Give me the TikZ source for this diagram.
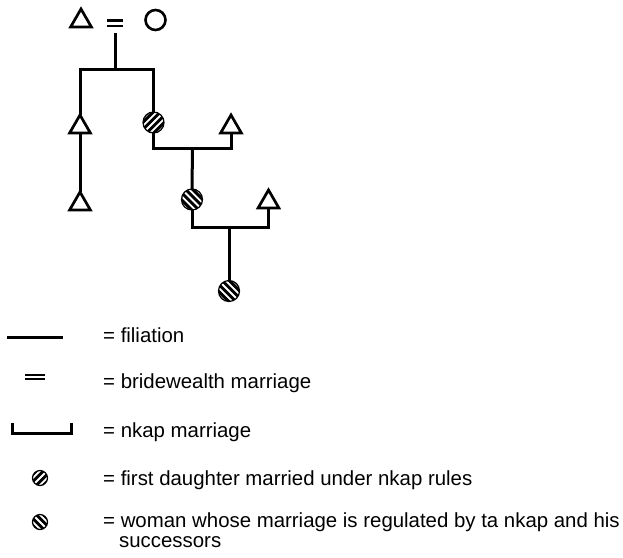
\documentclass[tikz,border=0pt]{standalone}
\usepackage{fontspec}
\setmainfont{Liberation Sans}
\usetikzlibrary{shapes.geometric}
\tikzset{
  lin/.style={line width=3pt, line join=miter},
  tri/.style={regular polygon, regular polygon sides=3, draw, line width=2.7pt, minimum size=24pt, inner sep=0pt, outer sep=0pt},
  wom/.style={circle, draw, line width=2.6pt, minimum size=20pt, inner sep=0pt, outer sep=0pt},
  hatchNE/.style={circle, draw, fill=black, line width=1.2pt, minimum size=#1, inner sep=0pt, outer sep=0pt,
    path picture={\foreach \k in {-3,...,3}{
      \draw[white, line width=1.8pt] ([shift={({\k*3.6-20},{-\k*3.6-20})}]path picture bounding box.center) -- ++(40,40);}}},
  hatchNW/.style={circle, draw, fill=black, line width=1.2pt, minimum size=#1, inner sep=0pt, outer sep=0pt,
    path picture={\foreach \k in {-3,...,3}{
      \draw[white, line width=1.8pt] ([shift={({\k*3.6-20},{\k*3.6+20})}]path picture bounding box.center) -- ++(40,-40);}}},
  lbl/.style={anchor=base west, inner sep=0pt, font=\fontsize{20.4}{21}\selectfont}
}
\begin{document}
\begin{tikzpicture}[x=1pt,y=1pt]
\useasboundingbox (0,0) rectangle (623,-557);
% --- genealogy ---
\node[tri] (t0) at (81,-21) {};
\node[wom] (c0) at (155.5,-20) {};
\draw[line width=2.4pt] (107,-20.5) -- (123,-20.5) (107,-26) -- (123,-26);
\coordinate (eqb) at (115,-33);
\coordinate (j0) at (115,-69);
\coordinate (j1) at (192.5,-148);
\coordinate (j2) at (229,-227);
\node[tri] (t1) at (80,-127) {};
\node[tri] (t2) at (80,-204) {};
\node[hatchNE=21pt] (c1) at (153.5,-122.5) {};
\node[tri] (t3) at (231,-127) {};
\node[hatchNW=21pt] (c2) at (192,-199.5) {};
\node[tri] (t4) at (268.5,-202) {};
\node[hatchNW=21pt] (c3) at (229,-291) {};
\draw[lin] (eqb) -- (j0);
\draw[lin] (t1.north) -- (t1.north |- j0) -- (c1.north |- j0) -- (c1.north);
\draw[lin] (t1.south) -- (t2.north);
\draw[lin] (c1.south) -- (c1.south |- j1) -- (t3.south |- j1) -- (t3.south);
\draw[lin] (j1) -- (c2.north);
\draw[lin] (c2.south) -- (c2.south |- j2) -- (t4.south |- j2) -- (t4.south);
\draw[lin] (j2) -- (c3.north);
% --- legend ---
\coordinate (f1) at (7,-337);
\coordinate (f2) at (63,-337);
\draw[lin] (f1) -- (f2);
\node[lbl] (lf) at (103,-342) {= filiation};
\draw[line width=2.2pt] (25,-375.2) -- (45,-375.2) (25,-378.8) -- (45,-378.8);
\node[lbl] (lb) at (103,-388) {= bridewealth marriage};
\coordinate (n1) at (12,-423);
\coordinate (n2) at (71,-423);
\draw[lin] (n1) -- (n1 |- 0,-433) -- (n2 |- 0,-433) -- (n2);
\node[lbl] (ln) at (103,-437) {= nkap marriage};
\node[hatchNE=15pt] (lc1) at (40,-478) {};
\node[lbl] (ld) at (103,-485) {= first daughter married under nkap rules};
\node[hatchNW=15pt] (lc2) at (40,-522) {};
\node[lbl] (lw) at (103,-527) {= woman whose marriage is regulated by ta nkap and his};
\node[lbl] (ls) at (119,-547) {successors};
\end{tikzpicture}
\end{document}
